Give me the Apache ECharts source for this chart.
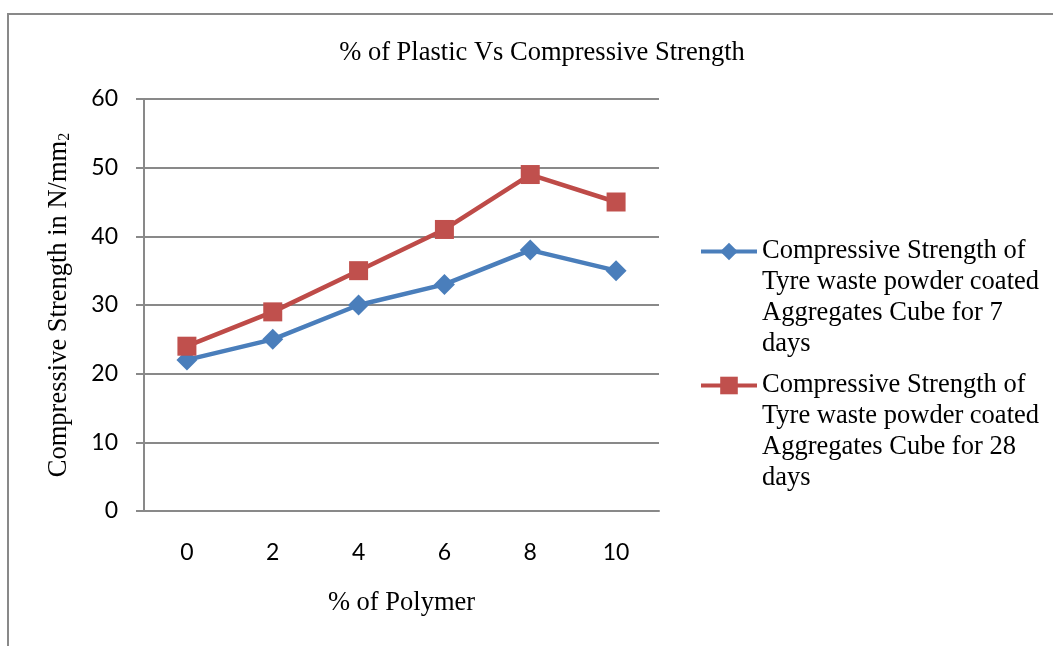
<!DOCTYPE html>
<html>
<head>
<meta charset="utf-8">
<title>% of Plastic Vs Compressive Strength</title>
<script src="https://cdn.jsdelivr.net/npm/echarts@6/dist/echarts.min.js"></script>
<style>
  html, body { margin: 0; padding: 0; background: #fff; }
  #chart { width: 1053px; height: 646px; }
</style>
</head>
<body>
<div id="chart"></div>
<script>
  // data
  const polymerPct = ['0', '2', '4', '6', '8', '10'];
  const strength7 = [22, 25, 30, 33, 38, 35];
  const strength28 = [24, 29, 35, 41, 49, 45];
  const seriesNames = [
    'Compressive Strength of\nTyre waste powder coated\nAggregates Cube for 7\ndays',
    'Compressive Strength of\nTyre waste powder coated\nAggregates Cube for 28\ndays'
  ];

  const serif = '"Liberation Serif", "Times New Roman", serif';
  const sans = 'Lato, "Open Sans", sans-serif';
  const gray = '#898989';

  const myChart = echarts.init(document.getElementById('chart'));
  myChart.setOption({
    animation: false,
    title: {
      text: '% of Plastic Vs Compressive Strength',
      left: 537,
      top: 35,
      textAlign: 'center',
      textStyle: { fontFamily: serif, fontSize: 26.5, fontWeight: 'normal', color: '#000' }
    },
    graphic: [{
      type: 'rect',
      shape: { x: 8, y: 14, width: 1200, height: 800 },
      style: { fill: 'none', stroke: gray, lineWidth: 2 },
      silent: true
    }],
    legend: {
      orient: 'vertical',
      left: 694,
      top: 138,
      itemWidth: 56,
      itemHeight: 22,
      itemGap: -83,
      formatter: name => '\n\n\n' + name,
      lineStyle: { width: 4 },
      textStyle: { fontFamily: serif, fontSize: 26.5, lineHeight: 31, color: '#000' },
      data: seriesNames
    },
    grid: { left: 144, top: 99, right: 394, bottom: 135, containLabel: false },
    xAxis: {
      type: 'category',
      data: polymerPct,
      name: '% of Polymer',
      nameLocation: 'middle',
      nameGap: 79,
      nameTextStyle: { fontFamily: serif, fontSize: 26.5, color: '#000' },
      axisLine: { lineStyle: { color: gray, width: 2 } },
      axisTick: { show: false },
      axisLabel: { fontFamily: sans, fontSize: 23, color: '#000', margin: 30 }
    },
    yAxis: {
      type: 'value',
      min: 0,
      max: 60,
      interval: 10,
      name: '{a|Compressive Strength in N/mm}{b|2}',
      nameLocation: 'middle',
      nameRotate: 90,
      nameGap: 71,
      nameTextStyle: {
        rich: {
          a: { fontFamily: serif, fontSize: 26.5, color: '#000' },
          b: { fontFamily: serif, fontSize: 16, color: '#000', verticalAlign: 'bottom', padding: [8, 0, 0, 0] }
        }
      },
      axisLine: { show: true, lineStyle: { color: gray, width: 2 } },
      axisTick: { show: true, length: 8, lineStyle: { color: gray, width: 2 } },
      splitLine: { lineStyle: { color: gray, width: 2 } },
      axisLabel: { fontFamily: sans, fontSize: 23, color: '#000', margin: 26 }
    },
    series: [
      {
        name: seriesNames[0],
        type: 'line',
        data: strength7,
        symbol: 'diamond',
        symbolSize: 21,
        lineStyle: { color: '#4a7ebb', width: 4.5 },
        itemStyle: { color: '#4a7ebb' }
      },
      {
        name: seriesNames[1],
        type: 'line',
        data: strength28,
        symbol: 'rect',
        symbolSize: 19,
        lineStyle: { color: '#be4b48', width: 4.5 },
        itemStyle: { color: '#c0504d' }
      }
    ]
  });
</script>
</body>
</html>
